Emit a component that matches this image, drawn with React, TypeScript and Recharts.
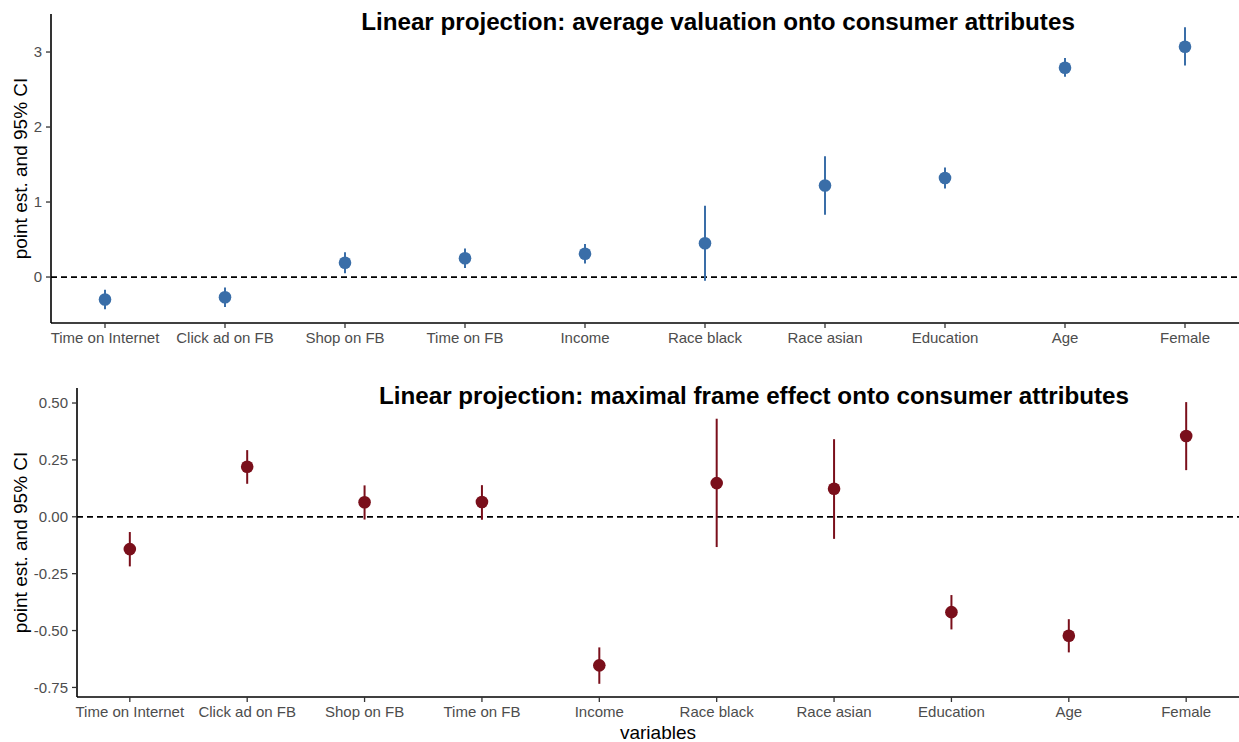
import { ComposedChart, Scatter, ErrorBar, XAxis, YAxis, ReferenceLine } from 'recharts';

// categories along the x axis (same order in both panels)
const variables = [
  'Time on Internet',
  'Click ad on FB',
  'Shop on FB',
  'Time on FB',
  'Income',
  'Race black',
  'Race asian',
  'Education',
  'Age',
  'Female',
];

// top panel: average valuation
const valEst = [-0.3, -0.27, 0.19, 0.25, 0.31, 0.45, 1.22, 1.32, 2.79, 3.07];
const valLow = [-0.43, -0.4, 0.05, 0.12, 0.18, -0.05, 0.83, 1.18, 2.67, 2.82];
const valHigh = [-0.17, -0.14, 0.33, 0.38, 0.44, 0.95, 1.61, 1.46, 2.92, 3.33];

// bottom panel: maximal frame effect
const frameEst = [-0.142, 0.22, 0.064, 0.065, -0.653, 0.148, 0.123, -0.419, -0.523, 0.355];
const frameLow = [-0.218, 0.145, -0.012, -0.013, -0.734, -0.133, -0.097, -0.495, -0.596, 0.205];
const frameHigh = [-0.067, 0.293, 0.138, 0.139, -0.574, 0.431, 0.341, -0.344, -0.45, 0.504];

const valTicks = [0, 1, 2, 3];
const frameTicks = [-0.75, -0.5, -0.25, 0, 0.25, 0.5];

const FONT = '"Liberation Sans", Arial, Helvetica, sans-serif';
const BLUE = '#3a6ea8';
const RED = '#7a0f1b';

const build = (est: number[], lo: number[], hi: number[]) =>
  est.map((v, i) => ({ idx: i, est: v, err: [v - lo[i], hi[i] - v] }));

const valData = build(valEst, valLow, valHigh);
const frameData = build(frameEst, frameLow, frameHigh);

const tickStyle = { fill: '#4d4d4d', fontSize: 15, fontFamily: FONT };
const axisLine = { stroke: '#000', strokeWidth: 1.6 };
const tickLine = { stroke: '#333', strokeWidth: 1.3 };

type PanelProps = {
  data: { idx: number; est: number; err: number[] }[];
  color: string;
  height: number;
  marginTop: number;
  yWidth: number;
  xHeight: number;
  domain: [number, number];
  ticks: number[];
  fmt: (v: number) => string;
  xLabel?: string;
};

function Panel({ data, color, height, marginTop, yWidth, xHeight, domain, ticks, fmt, xLabel }: PanelProps) {
  return (
    <ComposedChart width={1239} height={height} data={data} margin={{ top: marginTop, right: 0, left: 0, bottom: 0 }}>
      <XAxis
        type="number"
        dataKey="idx"
        domain={[-0.45, 9.45]}
        ticks={[0, 1, 2, 3, 4, 5, 6, 7, 8, 9]}
        allowDataOverflow
        interval={0}
        tickFormatter={(i: number) => variables[i]}
        height={xHeight}
        tick={tickStyle}
        tickSize={5}
        tickMargin={4}
        axisLine={axisLine}
        tickLine={tickLine}
        label={
          xLabel
            ? { value: xLabel, position: 'insideBottom', offset: 3, style: { fill: '#000', fontSize: 19, fontFamily: FONT } }
            : undefined
        }
      />
      <YAxis
        type="number"
        domain={domain}
        ticks={ticks}
        allowDataOverflow
        width={yWidth}
        tick={tickStyle}
        tickSize={5}
        tickMargin={4}
        tickFormatter={fmt}
        axisLine={axisLine}
        tickLine={tickLine}
        label={{
          value: 'point est. and 95% CI',
          angle: -90,
          position: 'insideLeft',
          offset: 20,
          style: { textAnchor: 'middle', fill: '#000', fontSize: 19, fontFamily: FONT },
        }}
      />
      <ReferenceLine y={0} stroke="#000" strokeWidth={1.8} strokeDasharray="6 4" />
      <Scatter dataKey="est" fill={color} isAnimationActive={false} shape={(p: any) => <circle cx={p.cx} cy={p.cy} r={6.3} fill={color} />}>
        <ErrorBar dataKey="err" direction="y" width={0} stroke={color} strokeWidth={2} isAnimationActive={false} />
      </Scatter>
    </ComposedChart>
  );
}

const titleStyle = {
  position: 'absolute' as const,
  transform: 'translateX(-50%)',
  whiteSpace: 'nowrap' as const,
  fontFamily: FONT,
  fontWeight: 'bold' as const,
  fontSize: 24.2,
  lineHeight: '24px',
  color: '#000',
};

export default function App() {
  return (
    <div style={{ position: 'absolute', left: 0, top: 0, width: 1239, height: 742, background: '#fff' }}>
      <Panel
        data={valData}
        color={BLUE}
        height={350}
        marginTop={14}
        yWidth={51}
        xHeight={27}
        domain={[-0.613, 3.507]}
        ticks={valTicks}
        fmt={(v) => String(v)}
      />
      <Panel
        data={frameData}
        color={RED}
        height={392}
        marginTop={38}
        yWidth={77}
        xHeight={45}
        domain={[-0.792, 0.566]}
        ticks={frameTicks}
        fmt={(v) => v.toFixed(2)}
        xLabel="variables"
      />
      <div style={{ ...titleStyle, left: 718, top: 10 }}>Linear projection: average valuation onto consumer attributes</div>
      <div style={{ ...titleStyle, left: 754, top: 384 }}>Linear projection: maximal frame effect onto consumer attributes</div>
    </div>
  );
}
